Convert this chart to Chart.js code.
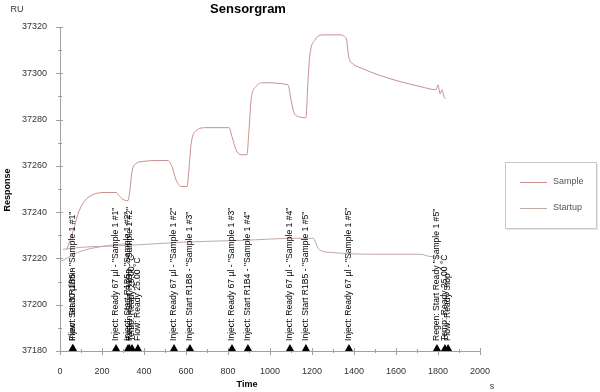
<!DOCTYPE html>
<html>
<head>
<meta charset="utf-8">
<script src="https://cdn.jsdelivr.net/npm/chart.js@4"></script>
<style>
  html, body { margin: 0; padding: 0; background: #fff; }
  #wrap { width: 600px; height: 392px; position: relative; }
</style>
</head>
<body>
<div id="wrap"><canvas id="chart"></canvas></div>
<script>
// time (s) and response (RU) of the sample cycle
var sampleTime = [33, 62, 90, 119, 157, 219, 267, 281, 300, 324, 333, 343, 362, 395, 457, 514, 533, 552, 576, 605,
    614, 624, 648, 695, 805, 819, 838, 862, 890, 900, 910, 933, 967, 1086, 1100, 1114, 1138, 1171, 1181, 1190,
    1214, 1252, 1329, 1362, 1376, 1395, 1433, 1529, 1624, 1719, 1790, 1800, 1810, 1819, 1829, 1838]
var sampleRU = [37223.9, 37231.7, 37240.3, 37245.0, 37247.6, 37248.5, 37248.5, 37247.2, 37245.5, 37245.0, 37249.8,
    37257.6, 37261.0, 37261.9, 37262.3, 37262.3, 37259.7, 37254.1, 37251.1, 37251.1,
    37258.4, 37269.2, 37275.2, 37276.5, 37276.5, 37272.6, 37267.0, 37264.8, 37264.8, 37275.6, 37288.6, 37294.2,
    37295.9, 37295.0, 37288.6, 37283.0, 37281.2, 37280.8, 37297.2, 37307.9,
    37314.4, 37316.6, 37316.6, 37315.3, 37306.6, 37304.1, 37302.3, 37298.9, 37296.3, 37294.2, 37292.9, 37295.0,
    37291.1, 37292.9, 37289.8, 37289.0]

// startup cycles (null = break between curves)
var startupTime = [14, 100, 195, 338, 576, 862, 1133, 1205, 1233, 1290, 1529, 1719, 1757, 1814, null,
    5, 100, 243, 338, null, 5, 148, 338]
var startupRU = [37223.9, 37224.8, 37225.2, 37225.7, 37227.0, 37227.8, 37228.7, 37228.7, 37223.9, 37222.6,
    37221.8, 37221.8, 37220.9, 37220.5, null,
    37218.8, 37223.1, 37225.7, 37226.5, null, 37230.0, 37227.4, 37225.2]

var seriesNames = ['Sample', 'Startup']
var seriesColors = ['#c98e8e', '#bfaaa4']

// event markers along the time axis
var eventTimes = [60, 62, 267, 324, 331, 343, 371, 543, 619, 819, 895, 1095, 1171, 1376, 1795, 1833, 1848]
var eventLabels = [
    'Flow: Set 30 µl/min',
    'Inject: Start R1B5 - "Sample 1 #1"',
    'Inject: Ready 67 µl - "Sample 1 #1"',
    'Inject: Start R1B5 - "Sample 1 #2"',
    'Regen: Start R1B5 - "Sample 1 #2"',
    'Temp: Ready 25.00 °C',
    'Flow: Ready 25.00 °C',
    'Inject: Ready 67 µl - "Sample 1 #2"',
    'Inject: Start R1B8 - "Sample 1 #3"',
    'Inject: Ready 67 µl - "Sample 1 #3"',
    'Inject: Start R1B4 - "Sample 1 #4"',
    'Inject: Ready 67 µl - "Sample 1 #4"',
    'Inject: Start R1B5 - "Sample 1 #5"',
    'Inject: Ready 67 µl - "Sample 1 #5"',
    'Regen: Start Ready "Sample 1 #5"',
    'Temp: Ready 25.00 °C',
    'Flow: Ready Stop'
]

var xTicks = [0, 200, 400, 600, 800, 1000, 1200, 1400, 1600, 1800, 2000]
var yTicks = [37180, 37200, 37220, 37240, 37260, 37280, 37300, 37320]

function pts(xs, ys) {
    return xs.map((x, i) => (x === null ? { x: NaN, y: null } : { x: x, y: ys[i] }))
}

var decor = {
    id: 'decor',
    afterDraw(chart) {
        var c = chart.ctx, a = chart.chartArea
        var sx = chart.scales.x, sy = chart.scales.y
        c.save()
        //axes lines
        c.strokeStyle = '#a0a0a0'
        c.lineWidth = 1
        c.beginPath()
        c.moveTo(a.left + 0.5, a.top)
        c.lineTo(a.left + 0.5, a.bottom + 0.5)
        c.lineTo(a.right, a.bottom + 0.5)
        c.stroke()
        //ticks, major and minor
        c.beginPath()
        for (var v = 37180; v <= 37320; v += 10) {
            var py = Math.round(sy.getPixelForValue(v)) + 0.5
            var big = v % 20 === 0
            c.moveTo(a.left - (big ? 4 : 2), py)
            c.lineTo(a.left + (big ? 3 : 2), py)
        }
        for (var t = 0; t <= 2000; t += 100) {
            var px = Math.round(sx.getPixelForValue(t)) + 0.5
            var major = t % 200 === 0
            c.moveTo(px, a.bottom - (major ? 3 : 2))
            c.lineTo(px, a.bottom + (major ? 4 : 2))
        }
        c.stroke()

        //event markers
        c.fillStyle = '#000'
        c.font = '8.6px "Liberation Sans", Arial, sans-serif'
        c.textBaseline = 'middle'
        c.textAlign = 'left'
        eventTimes.forEach((t, i) => {
            var px = sx.getPixelForValue(t)
            c.beginPath()
            c.moveTo(px - 4, a.bottom)
            c.lineTo(px + 4, a.bottom)
            c.lineTo(px, a.bottom - 7)
            c.closePath()
            c.fill()
            c.save()
            c.translate(px, a.bottom - 10)
            c.rotate(-Math.PI / 2)
            c.fillText(eventLabels[i], 0, 0)
            c.restore()
        })

        //titles
        c.fillStyle = '#000'
        c.textAlign = 'center'
        c.font = 'bold 13px "Liberation Sans", Arial, sans-serif'
        c.fillText('Sensorgram', 248, 9)
        c.font = 'bold 9px "Liberation Sans", Arial, sans-serif'
        c.fillText('Time', 247, 385)
        c.save()
        c.translate(8, 190)
        c.rotate(-Math.PI / 2)
        c.fillText('Response', 0, 0)
        c.restore()
        c.font = '9px "Liberation Sans", Arial, sans-serif'
        c.fillStyle = '#333'
        c.fillText('RU', 17, 10)
        c.fillText('s', 492, 387)

        //legend box
        c.strokeStyle = '#c8c8c8'
        c.strokeRect(505.5, 162.5, 91, 66)
        c.strokeStyle = '#e6e6e6'
        c.beginPath()
        c.moveTo(597.5, 164)
        c.lineTo(597.5, 229.5)
        c.lineTo(507, 229.5)
        c.stroke()
        c.textAlign = 'left'
        chart.data.datasets.forEach((ds, i) => {
            var ly = 182 + i * 26
            c.strokeStyle = ds.borderColor
            c.beginPath()
            c.moveTo(520, ly + 0.5)
            c.lineTo(547, ly + 0.5)
            c.stroke()
            c.fillStyle = '#555'
            c.fillText(ds.label, 553, ly)
        })
        c.restore()
    }
}

var ctx = document.getElementById('chart').getContext('2d')
var chart = new Chart(ctx, {
    type: 'line',
    data: {
        datasets: [{
            label: seriesNames[0],
            data: pts(sampleTime, sampleRU),
            borderColor: seriesColors[0],
            borderWidth: 1,
            pointRadius: 0,
            cubicInterpolationMode: 'monotone',
            fill: false
        }, {
            label: seriesNames[1],
            data: pts(startupTime, startupRU),
            borderColor: seriesColors[1],
            borderWidth: 1,
            pointRadius: 0,
            cubicInterpolationMode: 'monotone',
            spanGaps: false,
            fill: false
        }]
    },
    options: {
        responsive: true,
        maintainAspectRatio: false,
        animation: false,
        parsing: false,
        layout: { padding: { top: 27, right: 120, left: 0, bottom: 0 } },
        plugins: {
            legend: { display: false },
            tooltip: { enabled: false }
        },
        scales: {
            x: {
                type: 'linear',
                min: 0,
                max: 2000,
                afterFit: (s) => { s.height = 41 },
                afterBuildTicks: (s) => { s.ticks = xTicks.map(v => ({ value: v })) },
                grid: { display: false },
                border: { display: false },
                ticks: {
                    padding: 7,
                    color: '#333',
                    font: { family: '"Liberation Sans", Arial, sans-serif', size: 9 },
                    callback: (v) => String(v)
                }
            },
            y: {
                type: 'linear',
                min: 37180,
                max: 37320,
                afterFit: (s) => { s.width = 60 },
                afterBuildTicks: (s) => { s.ticks = yTicks.map(v => ({ value: v })) },
                grid: { display: false },
                border: { display: false },
                ticks: {
                    padding: 5,
                    color: '#333',
                    font: { family: '"Liberation Sans", Arial, sans-serif', size: 9 },
                    callback: (v) => String(v)
                }
            }
        }
    },
    plugins: [decor]
})
</script>
</body>
</html>
